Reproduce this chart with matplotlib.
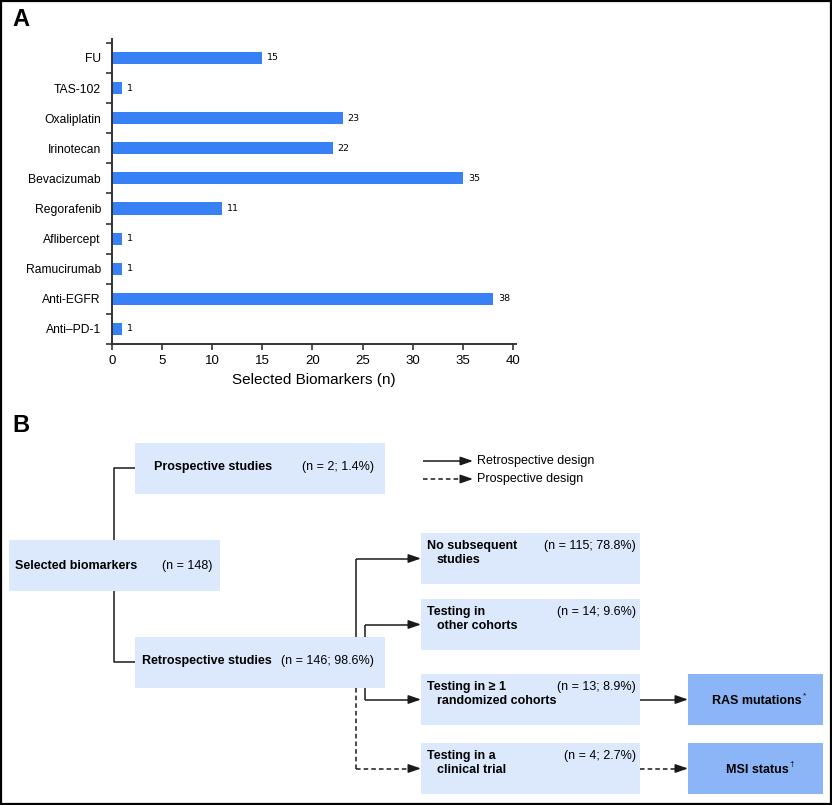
import matplotlib
matplotlib.use("Agg")
import matplotlib.pyplot as plt
from matplotlib.patches import Rectangle

plt.rcParams["font.family"] = ["Liberation Sans", "DejaVu Sans"]

# panel A data
drugs = ["FU", "TAS-102", "Oxaliplatin", "Irinotecan", "Bevacizumab",
         "Regorafenib", "Aflibercept", "Ramucirumab", "Anti-EGFR", "Anti\u2013PD-1"]
n_biomarkers = [15, 1, 23, 22, 35, 11, 1, 1, 38, 1]
xticks = [0, 5, 10, 15, 20, 25, 30, 35, 40]

# panel B data
root_label, root_count = "Selected biomarkers", "(n = 148)"
first_labels = ["Prospective studies", "Retrospective studies"]
first_counts = ["(n = 2; 1.4%)", "(n = 146; 98.6%)"]
next_labels = [("No subsequent", "studies"), ("Testing in", "other cohorts"),
               ("Testing in \u2265 1", "randomized cohorts"), ("Testing in a", "clinical trial")]
next_counts = ["(n = 115; 78.8%)", "(n = 14; 9.6%)", "(n = 13; 8.9%)", "(n = 4; 2.7%)"]
final_labels = [("RAS mutations", "*"), ("MSI status", "\u2020")]
legend_labels = ["Retrospective design", "Prospective design"]

BAR = "#3880f5"
LIGHT = "#dce8fb"
DARK = "#8cb5f7"
INK = "#1a1a1a"
W, H = 832, 805

fig = plt.figure(figsize=(W / 100, H / 100), dpi=100)

# ---- panel A ----
ax = fig.add_axes([112 / W, 1 - 344 / H, 404 / W, 305 / H])
y = list(range(len(drugs)))
ax.barh(y, n_biomarkers, height=0.4, color=BAR)
for yi, v in zip(y, n_biomarkers):
    ax.text(v + 0.5, yi, str(v), va="center", ha="left", fontsize=6.8, family="DejaVu Sans")
ax.set_xlim(0, 40.3)
ax.set_ylim(len(drugs) - 0.5, -0.63)
ax.set_yticks(y)
ax.set_yticklabels(drugs, fontsize=8.7)
ax.set_yticks([k - 0.5 for k in range(len(drugs) + 1)], minor=True)
ax.tick_params(axis="y", which="major", length=0, pad=8)
ax.tick_params(axis="y", which="minor", length=4, width=1.2, color="#333333")
ax.set_xticks(xticks)
ax.set_xticklabels([str(t) for t in xticks], fontsize=9.5)
ax.tick_params(axis="x", length=4, width=1.2, color="#333333", pad=4)
ax.set_xlabel("Selected Biomarkers (n)", fontsize=11, labelpad=4)
for s in ["top", "right"]:
    ax.spines[s].set_visible(False)
for s in ["left", "bottom"]:
    ax.spines[s].set_linewidth(1.4)
    ax.spines[s].set_color("#333333")

# ---- panel B (pixel coordinates) ----
bx = fig.add_axes([0, 0, 1, 1])
bx.set_xlim(0, W)
bx.set_ylim(H, 0)
bx.axis("off")

bx.add_patch(Rectangle((1, 1), W - 2, H - 2, fill=False, lw=1.6, ec="black", clip_on=False))
bx.text(12, 19, "A", fontsize=17, fontweight="bold", va="center", ha="left")
bx.text(12, 425, "B", fontsize=17, fontweight="bold", va="center", ha="left")


def box(x0, y0, w, h, color=LIGHT):
    bx.add_patch(Rectangle((x0, y0), w, h, color=color, lw=0))


def seg(xs, ys, dashed=False):
    bx.plot(xs, ys, color=INK, lw=1.1, ls=(0, (3, 2)) if dashed else "-",
            solid_capstyle="butt")


def arrow(x0, y0, x1, y1, dashed=False):
    # shaft (possibly dashed) plus a solid head
    seg([x0, x1 - 6], [y0, y1], dashed)
    bx.annotate("", xy=(x1, y1), xytext=(x1 - 8, y1),
                arrowprops=dict(arrowstyle="-|>,head_length=0.75,head_width=0.26",
                                color=INK, lw=1.1, shrinkA=0, shrinkB=0))


# root
box(9, 540, 211, 51)
bx.text(15, 566, root_label, fontsize=9, fontweight="bold", va="center")
bx.text(162, 566, root_count, fontsize=9, va="center")

# first level
first_y = [443, 637]
for lab, cnt, yy, lx, cx in zip(first_labels, first_counts, first_y, [154, 142], [302, 281]):
    box(135, yy, 250, 51)
    bx.text(lx, yy + 24, lab, fontsize=9, fontweight="bold", va="center")
    bx.text(cx, yy + 24, cnt, fontsize=9, va="center")
seg([135, 114, 114], [468, 468, 540])
seg([114, 114, 135], [591, 662, 662])

# legend
arrow(423, 461, 473, 461)
arrow(423, 479, 473, 479, dashed=True)
bx.text(477, 461, legend_labels[0], fontsize=9, va="center")
bx.text(477, 479, legend_labels[1], fontsize=9, va="center")

# second level
next_y = [533, 599, 674, 743]
for (l1, l2), cnt, yy in zip(next_labels, next_counts, next_y):
    box(421, yy, 219, 51)
    bx.text(427, yy + 13, l1, fontsize=9, fontweight="bold", va="center")
    bx.text(437, yy + 27, l2, fontsize=9, fontweight="bold", va="center")
    bx.text(636, yy + 13, cnt, fontsize=9, va="center", ha="right")

mid = [yy + 25.5 for yy in next_y]
seg([356, 356], [637, mid[0]])
arrow(356, mid[0], 421, mid[0])
seg([365, 365], [637, mid[1]])
arrow(365, mid[1], 421, mid[1])
seg([365, 365], [688, mid[2]])
arrow(365, mid[2], 421, mid[2])
seg([356, 356], [688, mid[3]], dashed=True)
arrow(356, mid[3], 421, mid[3], dashed=True)

# outcomes
for (lab, mark), yy, dashed in zip(final_labels, next_y[2:], [False, True]):
    box(688, yy, 135, 51, DARK)
    t = bx.text(757, yy + 27, lab, fontsize=9, fontweight="bold", va="center", ha="center")
    bx.annotate(mark, xy=(1, 1), xycoords=t, fontsize=6, va="top", ha="left",
                xytext=(1, 2), textcoords="offset points")
    arrow(640, yy + 25.5, 688, yy + 25.5, dashed=dashed)

fig.savefig("out.png", dpi=100)
